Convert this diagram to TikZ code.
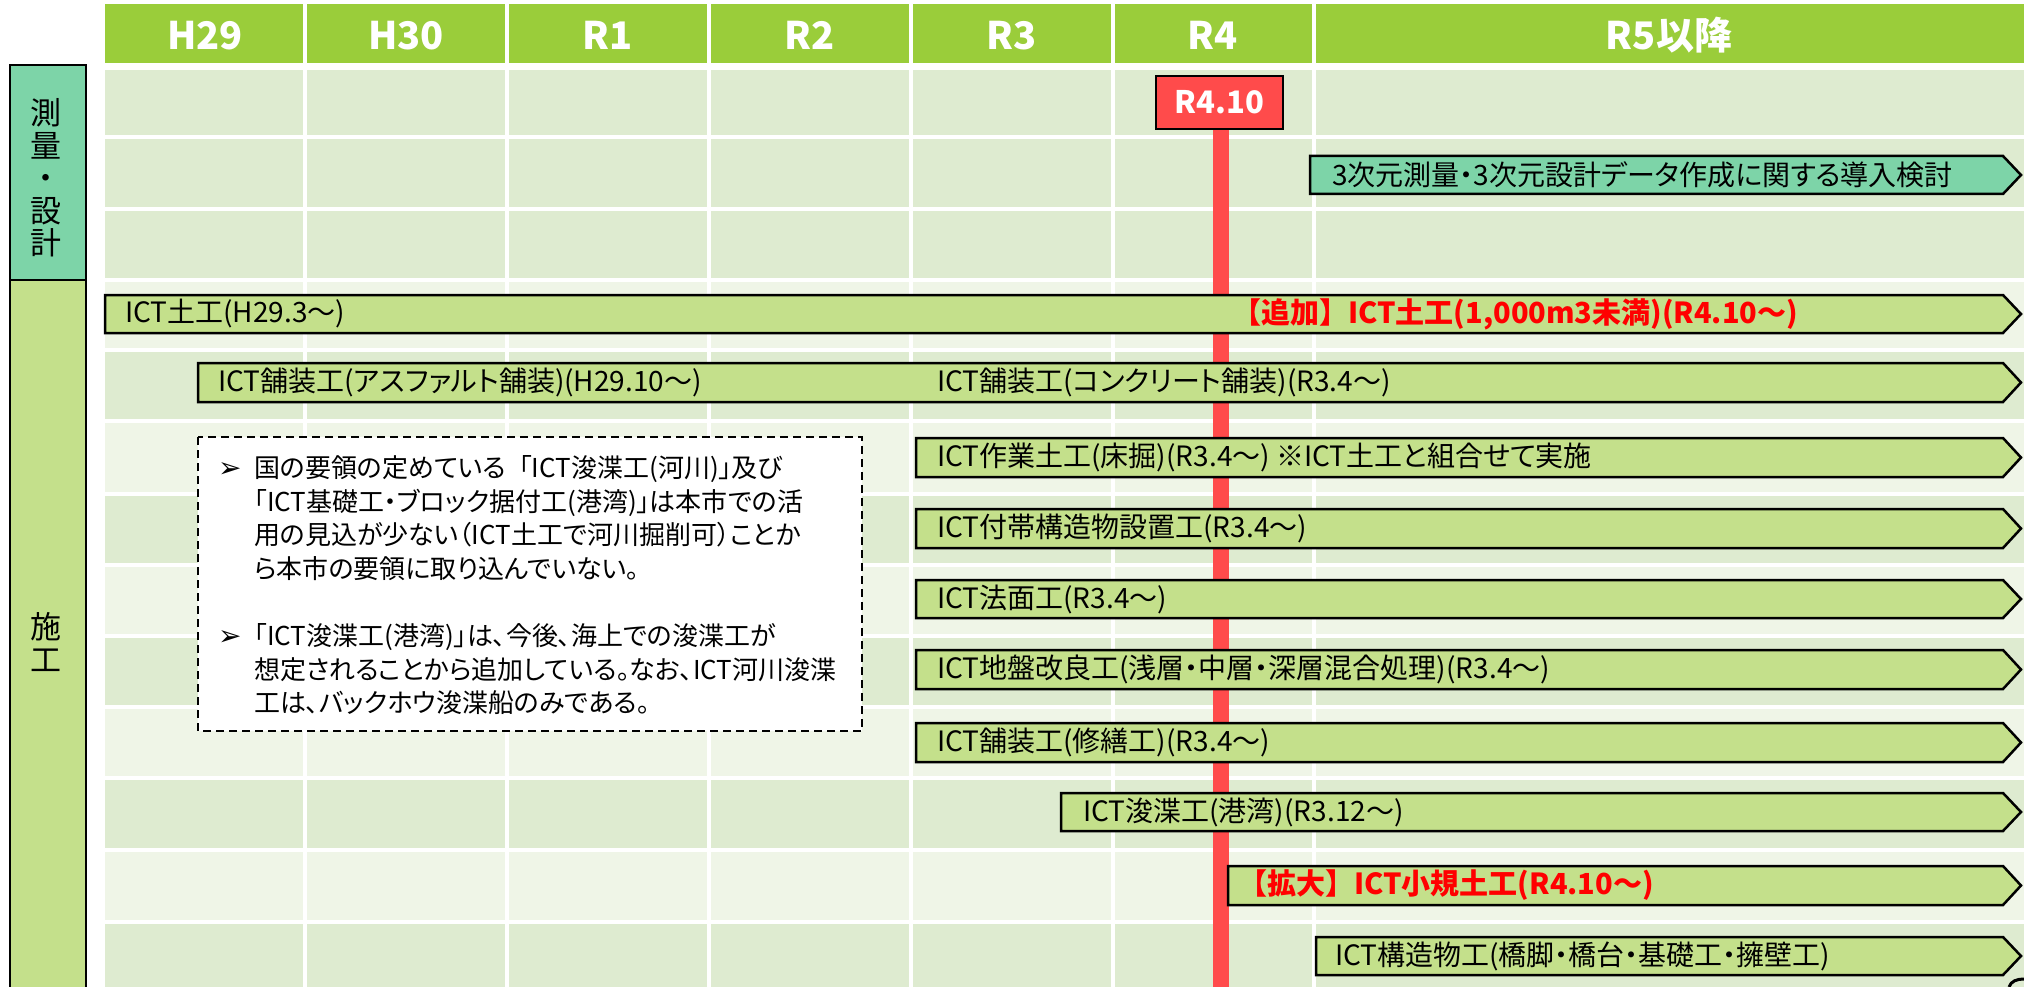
\documentclass[tikz,border=0pt]{standalone}
\usepackage{fontspec}
\setmainfont{Noto Sans CJK JP}
\newfontfamily\jpp{Noto Sans CJK JP}[RawFeature=+palt]
\newfontfamily\dvs{DejaVu Sans}
\definecolor{hdr}{HTML}{9ACD3A}
\definecolor{cdark}{HTML}{DEEBD0}
\definecolor{clight}{HTML}{EFF5E7}
\definecolor{barg}{HTML}{C4E08B}
\definecolor{mint}{HTML}{7DD4A8}
\definecolor{rline}{HTML}{FF4B4B}
\definecolor{rtext}{HTML}{FF0000}
\newcommand\chevbar[4]{\filldraw[barline, fill=#4] (#1,#2) -- (2003,#2) -- (2021,{(#2+#3)/2}) -- (2003,#3) -- (#1,#3) -- cycle;}
\begin{document}
\begin{tikzpicture}[x=1pt,y=-1pt,
  bartext/.style={anchor=west, inner sep=0pt, font=\jpp\fontsize{28}{32}\selectfont},
  redtext/.style={anchor=west, inner sep=0pt, text=rtext, font=\fontsize{29}{32}\selectfont\bfseries},
  hdrtext/.style={anchor=base, text=white, inner sep=0pt, font=\fontsize{38}{40}\selectfont\bfseries},
  barline/.style={draw=black, line width=2.5pt, line join=miter},
  sidebox/.style={draw=black, line width=2pt},
  sidetext/.style={align=center, inner sep=0pt, font=\fontsize{31}{32.5}\selectfont},
  notetext/.style={anchor=base west, inner sep=0pt, font=\jpp\fontsize{26}{33}\selectfont},
  bullet/.style={anchor=base west, inner sep=0pt, font=\dvs\fontsize{28}{30}\selectfont},
]
\useasboundingbox (0,0) rectangle (2024,987);
\fill[white] (0,0) rectangle (2024,987);
% header band
\fill[hdr] (105,4) rectangle (2024,63);
% grid rows
\fill[cdark] (105,70) rectangle (2024,280);
\foreach \t/\b/\c in {280/350/clight,350/421/cdark,421/494/clight,494/565/cdark,565/636/clight,636/707/cdark,707/778/clight,778/850/cdark,850/922/clight,922/987/cdark}
  \fill[\c] (105,\t) rectangle (2024,\b);
\foreach \y in {137,209,280,350,421,494,565,636,707,778,850,922}
  \fill[white] (105,\y-1.6) rectangle (2024,\y+1.6);
\foreach \x in {305,507,709,911,1113,1314}
  \fill[white] (\x-1.6,0) rectangle (\x+1.6,987);
% header labels
\node[hdrtext] (h29) at (205,50) {H29};
\node[hdrtext] (h30) at (406,50) {H30};
\node[hdrtext] (r1) at (608,50) {R1};
\node[hdrtext] (r2) at (810,50) {R2};
\node[hdrtext] (r3) at (1012,50) {R3};
\node[hdrtext] (r4) at (1213,50) {R4};
\node[hdrtext] (r5) at (1669,50) {R5以降};
% side boxes
\filldraw[sidebox, fill=mint] (10,65) rectangle (86,280);
\filldraw[sidebox, fill=barg] (10,280) rectangle (86,1000);
\node[sidetext] (sokuryo) at (46,178) {測\\量\\・\\設\\計};
\node[sidetext] (seko) at (46,642) {施\\工};
% red milestone line
\coordinate (rltop) at (1221,125);
\coordinate (rlbot) at (1221,987);
\draw[rline, line width=16pt] (rltop) -- (rlbot);
% bars
\chevbar{1310}{156}{194}{mint}
\chevbar{105}{295}{333}{barg}
\chevbar{198}{363}{402}{barg}
\chevbar{916}{438}{477}{barg}
\chevbar{916}{509}{548}{barg}
\chevbar{916}{580}{618}{barg}
\chevbar{916}{650}{689}{barg}
\chevbar{916}{723}{762}{barg}
\chevbar{1061}{793}{831}{barg}
\chevbar{1228}{866}{905}{barg}
\chevbar{1316}{937}{975}{barg}
% bar labels
\node[bartext] (t3d) at (1332,175) {3次元測量・3次元設計データ作成に関する導入検討};
\node[bartext] (tdo) at (125,314) {ICT土工(H29.3～)};
\node[redtext] (tdoadd) at (1232,314) {【追加】ICT土工(1,000m3未満)(R4.10～)};
\node[bartext] (tasp) at (218,382) {ICT舗装工(アスファルト舗装)(H29.10～)};
\node[bartext] (tcon) at (937,382) {ICT舗装工(コンクリート舗装)(R3.4～)};
\node[bartext] (tsag) at (937,457) {ICT作業土工(床掘)(R3.4～) ※ICT土工と組合せて実施};
\node[bartext] (tfut) at (937,528) {ICT付帯構造物設置工(R3.4～)};
\node[bartext] (tnor) at (937,599) {ICT法面工(R3.4～)};
\node[bartext] (tjib) at (937,669) {ICT地盤改良工(浅層・中層・深層混合処理)(R3.4～)};
\node[bartext] (tshu) at (937,742) {ICT舗装工(修繕工)(R3.4～)};
\node[bartext] (tshun) at (1083,812) {ICT浚渫工(港湾)(R3.12～)};
\node[redtext] (tsho) at (1238,885) {【拡大】ICT小規土工(R4.10～)};
\node[bartext] (tkou) at (1335,956) {ICT構造物工(橋脚・橋台・基礎工・擁壁工)};
% milestone box
\node[draw=black, line width=2pt, fill=rline, minimum width=127pt, minimum height=53pt, inner sep=0pt, text=white, font=\fontsize{31}{33}\selectfont\bfseries] (r410) at (1219.5,102.5) {R4.10};
% note box
\filldraw[draw=black, fill=white, line width=2.2pt, dash pattern=on 8pt off 5pt] (198,437) rectangle (862,731);
\node[bullet] (b1) at (218,477) {➢};
\node[bullet] (b2) at (218,645) {➢};
\node[notetext] (n1) at (254,477) {国の要領の定めている\hspace{0.5em}「ICT浚渫工(河川)」及び};
\node[notetext] (n2) at (254,511) {「ICT基礎工・ブロック据付工(港湾)」は本市での活};
\node[notetext] (n3) at (254,544) {用の見込が少ない（ICT土工で河川掘削可）ことか};
\node[notetext] (n4) at (254,578) {ら本市の要領に取り込んでいない。};
\node[notetext] (n5) at (254,645) {「ICT浚渫工(港湾)」は、今後、海上での浚渫工が};
\node[notetext] (n6) at (254,679) {想定されることから追加している。なお、ICT河川浚渫};
\node[notetext] (n7) at (254,712) {工は、バックホウ浚渫船のみである。};
% partial glyph at bottom-right corner
\draw[line width=3pt] (2009,987) .. controls (2011,981) and (2017,979) .. (2024,979);
\end{tikzpicture}
\end{document}
